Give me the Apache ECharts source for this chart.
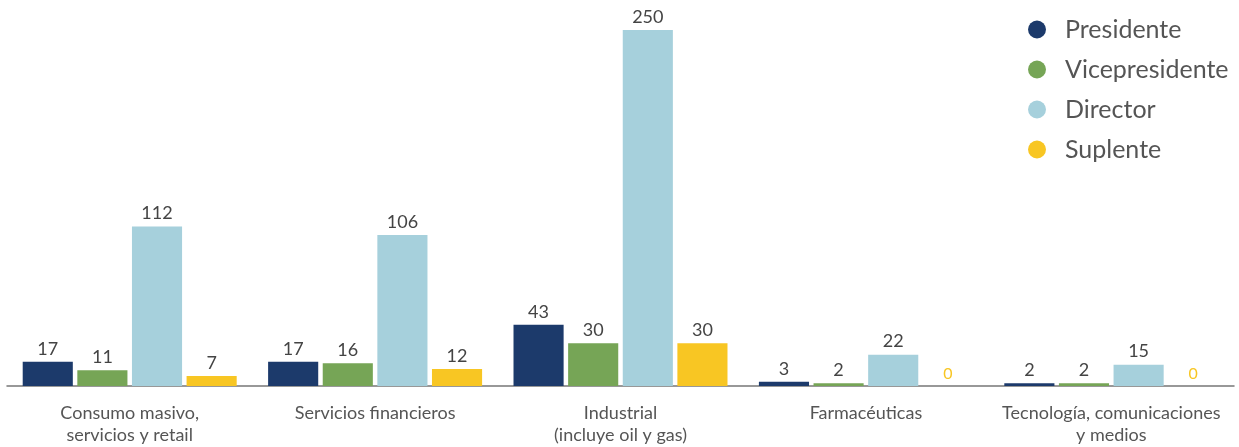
<!DOCTYPE html>
<html><head><meta charset="utf-8">
<script src="https://cdn.jsdelivr.net/npm/echarts@6/dist/echarts.min.js"></script>
<style>html,body{margin:0;padding:0;background:#fff}#c{width:1239px;height:447px}</style>
</head><body><div id="c"></div>
<script>
const categories = ["Consumo masivo,\nservicios y retail","Servicios financieros","Industrial\n(incluye oil y gas)","Farmacéuticas","Tecnología, comunicaciones\ny medios"];
const seriesNames = ["Presidente","Vicepresidente","Director","Suplente"];
const presidente = [17,17,43,3,2];
const vicepresidente = [11,16,30,2,2];
const director = [112,106,250,22,15];
const suplente = [7,12,30,0,0];
const colors = ["#1c3a6b","#76a556","#a6d0dc","#f8c623"];
const values = [presidente,vicepresidente,director,suplente];
const FONT = "Lato";
const chart = echarts.init(document.getElementById('c'));
chart.setOption({
  animation:false,
  textStyle:{fontFamily:FONT},
  grid:{left:7,right:5,top:30,bottom:61,containLabel:false},
  legend:{orient:'vertical',left:1023,top:12,icon:'circle',itemWidth:46,itemHeight:18,itemGap:15,
    textStyle:{fontSize:25,color:'#555',fontFamily:FONT,lineHeight:25},data:seriesNames},
  xAxis:{type:'category',data:categories,axisTick:{show:false},
    axisLine:{lineStyle:{color:'#777',width:1.5}},
    axisLabel:{fontSize:18,color:'#555',lineHeight:22,margin:16,interval:0}},
  yAxis:{type:'value',min:0,max:250,show:false,splitLine:{show:false}},
  series: seriesNames.map((n,i)=>({
    name:n,type:'bar',data:values[i],barGap:'9%',barCategoryGap:'12.8%',
    itemStyle:{color:colors[i]},
    label:{show:true,position:'top',distance:4,fontSize:18,color:'#444',fontFamily:FONT,
      formatter:p=>p.value===0?'{z|0}':String(p.value),
      rich:{z:{color:colors[3],fontSize:16,fontFamily:FONT}}}
  }))
});
</script></body></html>
